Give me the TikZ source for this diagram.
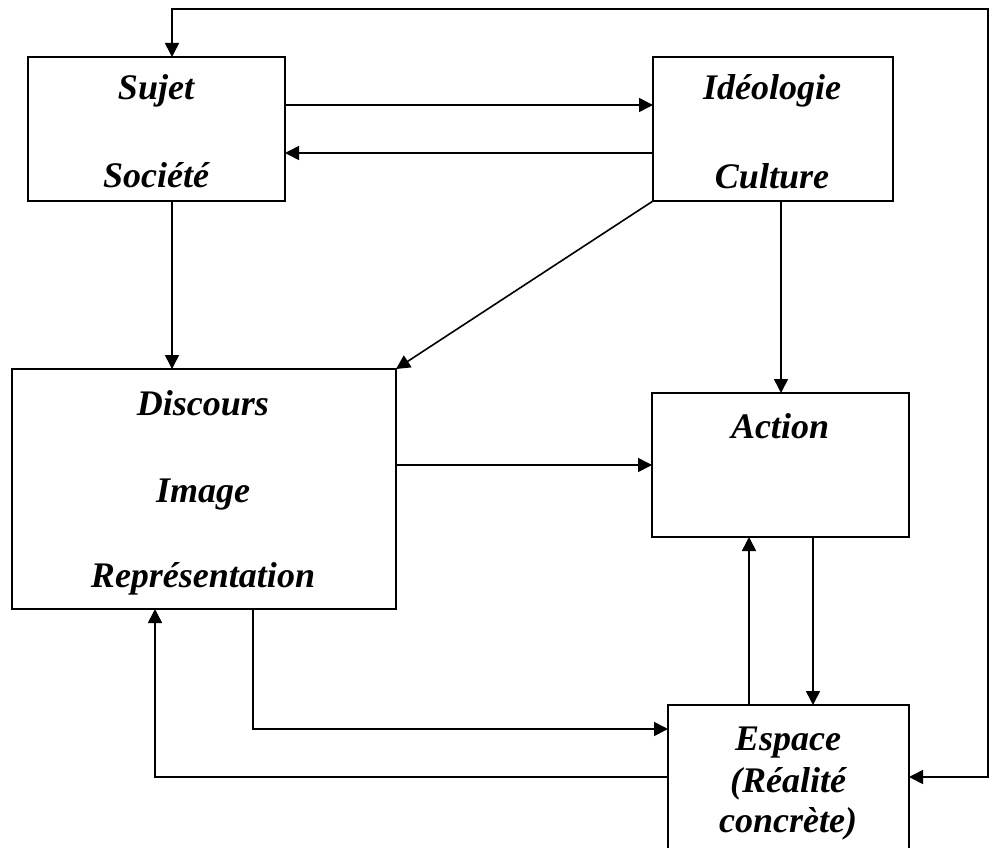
\documentclass[tikz,border=0pt]{standalone}
\usepackage{fontspec}
\setmainfont{Liberation Serif}
\usetikzlibrary{arrows.meta}
\begin{document}
\begin{tikzpicture}[x=1pt,y=-1pt,
  box/.style={draw=black,line width=1.8pt,inner sep=0pt,outer sep=0pt},
  lbl/.style={anchor=base,inner sep=0pt,font=\fontsize{36}{40}\selectfont\bfseries\itshape},
  conn/.style={line width=1.6pt,-{Triangle[length=14pt,width=14pt]}},
  conn2/.style={line width=1.6pt,{Triangle[length=14pt,width=14pt]}-{Triangle[length=14pt,width=14pt]}}]
\clip (0,0) rectangle (998,848);
\fill[white] (0,0) rectangle (998,848);
% boxes
\node[box,minimum width=257pt,minimum height=144pt] (sujet) at (156.5,129) {};
\node[box,minimum width=240pt,minimum height=144pt] (ideo) at (773,129) {};
\node[box,minimum width=384pt,minimum height=240pt] (disc) at (204,489) {};
\node[box,minimum width=257pt,minimum height=144pt] (action) at (780.5,465) {};
\node[box,minimum width=241pt,minimum height=160pt] (espace) at (788.5,785) {};
% texts
\node[lbl] (t1) at (156,100) {Sujet};
\node[lbl] (t2) at (156,187) {Société};
\node[lbl] (t3) at (772,100) {Idéologie};
\node[lbl] (t4) at (772,188) {Culture};
\node[lbl] (t5) at (203,415) {Discours};
\node[lbl] (t6) at (203,502) {Image};
\node[lbl] (t7) at (203,587) {Représentation};
\node[lbl] (t8) at (780,438) {Action};
\node[lbl] (t9) at (788,750) {Espace};
\node[lbl] (t10) at (788,792) {(Réalité};
\node[lbl] (t11) at (788,832) {concrète)};
% helper rails
\coordinate (lx) at (172,0);
\coordinate (rx) at (988,0);
\coordinate (ty) at (0,9);
\coordinate (ey) at (0,777);
\coordinate (ya) at (0,105);
\coordinate (yb) at (0,153);
\coordinate (yc) at (0,465);
\coordinate (yd) at (0,729);
\coordinate (xa) at (781,0);
\coordinate (xb) at (813,0);
\coordinate (xc) at (749,0);
\coordinate (xd) at (253,0);
\coordinate (xe) at (155,0);
% connectors
\draw[conn2] (sujet.north -| lx) -- (lx |- ty) -| (rx |- ey) -- (espace.east |- ey);
\draw[conn] (sujet.east |- ya) -- (ideo.west |- ya);
\draw[conn] (ideo.west |- yb) -- (sujet.east |- yb);
\draw[conn] (sujet.south -| lx) -- (disc.north -| lx);
\draw[conn] (ideo.south west) -- (disc.north east);
\draw[conn] (ideo.south -| xa) -- (action.north -| xa);
\draw[conn] (disc.east |- yc) -- (action.west |- yc);
\draw[conn] (action.south -| xb) -- (espace.north -| xb);
\draw[conn] (espace.north -| xc) -- (action.south -| xc);
\draw[conn] (disc.south -| xd) |- (espace.west |- yd);
\draw[conn] (espace.west |- ey) -| (disc.south -| xe);
\end{tikzpicture}
\end{document}
